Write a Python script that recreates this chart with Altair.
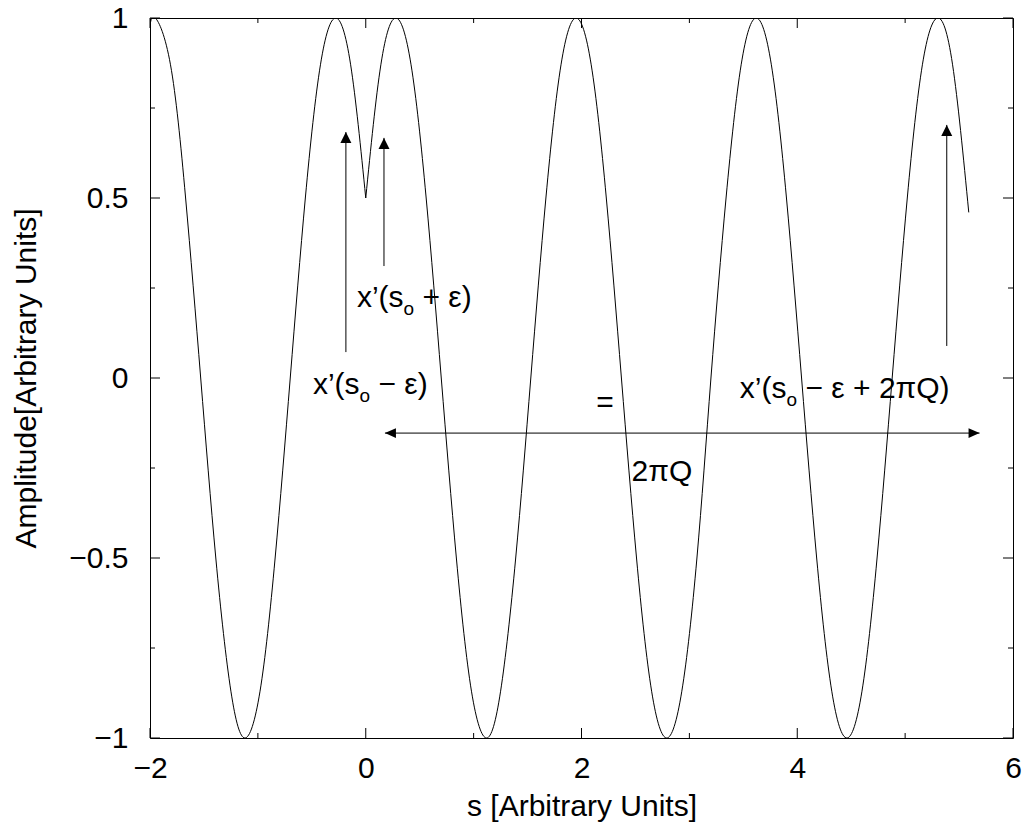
import altair as alt
import pandas as pd

# Amplitude along s, split at the kick point s = 0
left_s = [-2.00, -1.95, -1.81, -1.67, -1.53, -1.39, -1.25, -1.12, -0.98, -0.84,
          -0.70, -0.56, -0.42, -0.28, -0.14, 0.00]
left_amp = [0.98, 1.00, 0.87, 0.50, 0.00, -0.50, -0.87, -1.00, -0.87, -0.50,
            0.00, 0.50, 0.87, 1.00, 0.87, 0.50]

right_s = [0.00, 0.14, 0.28, 0.42, 0.56, 0.70, 0.84, 0.98, 1.12, 1.25,
           1.39, 1.53, 1.67, 1.81, 1.95, 2.09, 2.23, 2.37, 2.51, 2.65,
           2.79, 2.93, 3.07, 3.20, 3.34, 3.48, 3.62, 3.76, 3.90, 4.04,
           4.18, 4.32, 4.46, 4.60, 4.74, 4.88, 5.02, 5.16, 5.30, 5.44, 5.59]
right_amp = [0.50, 0.87, 1.00, 0.87, 0.50, 0.00, -0.50, -0.87, -1.00, -0.87,
             -0.50, 0.00, 0.50, 0.87, 1.00, 0.87, 0.50, 0.00, -0.50, -0.87,
             -1.00, -0.87, -0.50, 0.00, 0.50, 0.87, 1.00, 0.87, 0.50, 0.00,
             -0.50, -0.87, -1.00, -0.87, -0.50, 0.00, 0.50, 0.87, 1.00, 0.87, 0.46]

# Arrows: start (x0, y0) -> tip (x1, y1)
arrow_x0 = [-0.184, 0.169, 5.386, 0.178]
arrow_y0 = [0.072, 0.311, 0.089, -0.153]
arrow_x1 = [-0.184, 0.169, 5.386, 5.690]
arrow_y1 = [0.683, 0.667, 0.703, -0.153]
arrow_head = ["up", "up", "up", "right"]
# the span arrow is double headed
extra_head_x = [0.178]
extra_head_y = [-0.153]

# Orbit labels x'(s_o ...): left edge and baseline of each label
orbit_prefix = ["x’(s", "x’(s", "x’(s"]
orbit_sub = ["o", "o", "o"]
orbit_suffix = ["+ ε)", "− ε)", "− ε + 2πQ)"]
orbit_x = [-0.082, -0.490, 3.468]
orbit_y = [0.197, -0.044, -0.055]

# Plain labels (centered)
plain_text = ["=", "2πQ"]
plain_x = [2.217, 2.745]
plain_y = [-0.07, -0.26]

# Axis ticks
x_major = [-2, 0, 2, 4, 6]
x_minor = [-1, 1, 3, 5]
y_major = [-1, -0.5, 0, 0.5, 1]
y_minor = [-0.75, -0.25, 0.25, 0.75]

W, H = 863, 720
FONT = "Liberation Sans"
FS = 30
FS_SUB = 19

curve = pd.DataFrame({
    "s": left_s + right_s,
    "amp": left_amp + right_amp,
    "seg": ["left"] * len(left_s) + ["right"] * len(right_s),
})
arrows = pd.DataFrame({"x0": arrow_x0, "y0": arrow_y0, "x1": arrow_x1,
                       "y1": arrow_y1, "head": arrow_head})
orbit = pd.DataFrame({"pre": orbit_prefix, "sub": orbit_sub, "suf": orbit_suffix,
                      "x": orbit_x, "y": orbit_y})
plain = pd.DataFrame({"t": plain_text, "x": plain_x, "y": plain_y})

xs = alt.Scale(domain=[-2, 6], nice=False, zero=False)
ys = alt.Scale(domain=[-1, 1], nice=False, zero=False)

x_axis = alt.Axis(values=x_major, format="~g", ticks=False, tickSize=0, domain=False,
                  grid=False, labelFont=FONT, labelFontSize=FS, labelColor="black",
                  labelPadding=15, labelOverlap=False, labelFlush=False,
                  title="s [Arbitrary Units]", titleFont=FONT, titleFontSize=FS,
                  titleFontWeight="normal", titleColor="black",
                  titleBaseline="alphabetic", titleY=77, titleX=W / 2)
y_axis = alt.Axis(values=y_major, format="~g", ticks=False, tickSize=0, domain=False,
                  grid=False, labelFont=FONT, labelFontSize=FS, labelColor="black",
                  labelPadding=22, labelOverlap=False, labelFlush=False,
                  title="Amplitude[Arbitrary Units]", titleFont=FONT, titleFontSize=FS,
                  titleFontWeight="normal", titleColor="black", titleAngle=270,
                  titleBaseline="alphabetic", titleX=-115, titleY=H / 2)

line = alt.Chart(curve).mark_line(color="black", strokeWidth=1, interpolate="natural",
                                  clip=True).encode(
    x=alt.X("s:Q", scale=xs, axis=x_axis),
    y=alt.Y("amp:Q", scale=ys, axis=y_axis),
    detail="seg:N",
)

shafts = alt.Chart(arrows).mark_rule(color="black", strokeWidth=1).encode(
    x=alt.X("x0:Q", scale=xs), y=alt.Y("y0:Q", scale=ys),
    x2="x1:Q", y2="y1:Q",
)

UP = "M0,0L-0.5,1L0.5,1Z"
RIGHT = "M0,0L-1,-0.45L-1,0.45Z"
LEFT = "M0,0L1,-0.45L1,0.45Z"


def heads(df, shape):
    return alt.Chart(df).mark_point(shape=shape, filled=True, size=484, color="black",
                                    opacity=1, strokeWidth=0)


up_heads = heads(arrows[arrows["head"] == "up"], UP).encode(
    x=alt.X("x1:Q", scale=xs), y=alt.Y("y1:Q", scale=ys))
right_heads = heads(arrows[arrows["head"] == "right"], RIGHT).encode(
    x=alt.X("x1:Q", scale=xs), y=alt.Y("y1:Q", scale=ys))
left_heads = heads(pd.DataFrame({"x": extra_head_x, "y": extra_head_y}), LEFT).encode(
    x=alt.X("x:Q", scale=xs), y=alt.Y("y:Q", scale=ys))

# x'(s  +  subscript o  +  rest of the argument
PRE_W = 46.7      # advance of "x’(s" at 30px
SUB_W = 10.6      # advance of "o" at 19px
SPACE_W = 8.3     # a space at 30px


def orbit_piece(field, size, dx, dy):
    return alt.Chart(orbit).mark_text(font=FONT, fontSize=size, color="black",
                                      align="left", baseline="alphabetic",
                                      dx=dx, dy=dy).encode(
        x=alt.X("x:Q", scale=xs), y=alt.Y("y:Q", scale=ys), text=f"{field}:N")


orbit_pre = orbit_piece("pre", FS, 0, 0)
orbit_subs = orbit_piece("sub", FS_SUB, PRE_W, 8)
orbit_suf = orbit_piece("suf", FS, PRE_W + SUB_W + SPACE_W, 0)

plain_texts = alt.Chart(plain).mark_text(font=FONT, fontSize=FS, color="black",
                                         align="center", baseline="middle").encode(
    x=alt.X("x:Q", scale=xs), y=alt.Y("y:Q", scale=ys), text="t:N")


def tick_rules(vals, axis, major):
    n = 10 if major else 5
    df = pd.DataFrame({"v": vals})
    base = alt.Chart(df).mark_rule(color="black", strokeWidth=1)
    if axis == "x":
        bottom = base.encode(x=alt.X("v:Q", scale=xs), y=alt.value(H), y2=alt.value(H - n))
        top = base.encode(x=alt.X("v:Q", scale=xs), y=alt.value(0), y2=alt.value(n))
        return [bottom, top]
    left = base.encode(y=alt.Y("v:Q", scale=ys), x=alt.value(0), x2=alt.value(n))
    right = base.encode(y=alt.Y("v:Q", scale=ys), x=alt.value(W), x2=alt.value(W - n))
    return [left, right]


tick_layers = (tick_rules(x_major, "x", True) + tick_rules(x_minor, "x", False) +
               tick_rules(y_major, "y", True) + tick_rules(y_minor, "y", False))

chart = alt.layer(line, *tick_layers, shafts, up_heads, right_heads, left_heads,
                  orbit_pre, orbit_subs, orbit_suf, plain_texts).properties(
    width=W, height=H,
    autosize=alt.AutoSizeParams(type="none"),
    padding={"left": 150, "top": 18, "right": 11, "bottom": 87},
    background="white",
).configure_view(stroke="black", strokeWidth=1)

chart.save("out.html", embed_options={"renderer": "svg", "actions": False})
